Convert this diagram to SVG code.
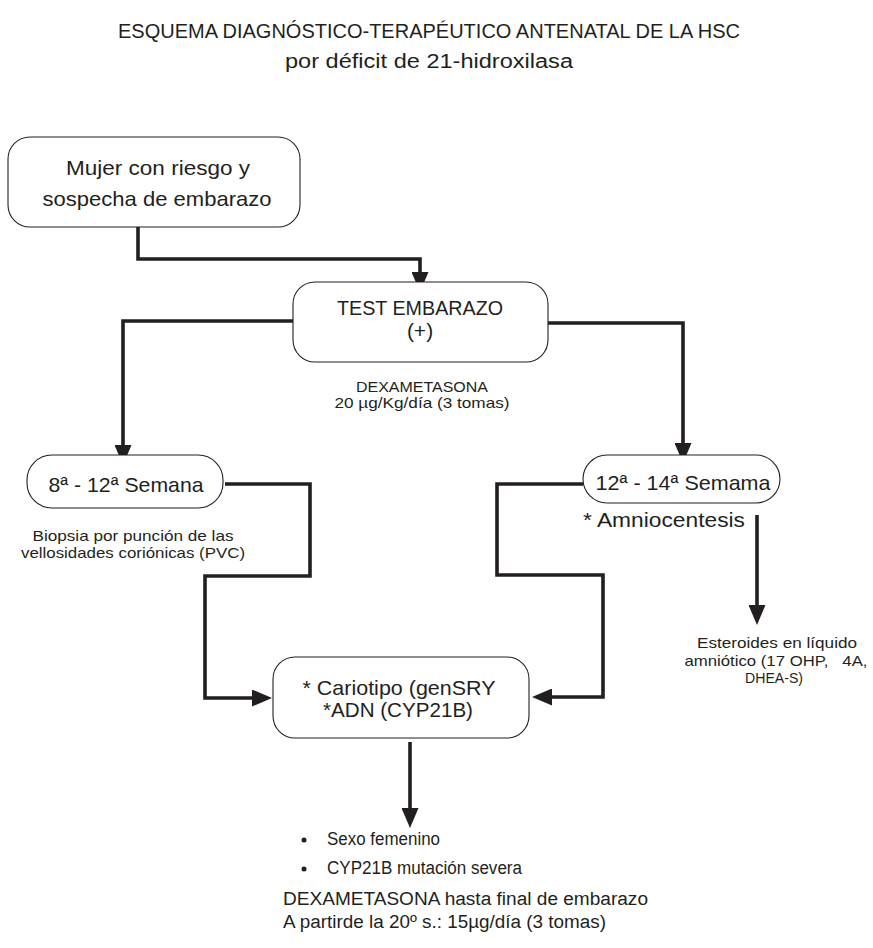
<svg xmlns="http://www.w3.org/2000/svg" width="873" height="948" viewBox="0 0 873 948">
<style>
text{font-family:"Liberation Sans",Arial,sans-serif;fill:#231f20}
.box{fill:#fff;stroke:#231f20;stroke-width:1.1}
.conn{fill:none;stroke:#231f20;stroke-width:3.6;stroke-linejoin:miter}
.ttl{font-size:20px}
.big{font-size:21px}
.mid{font-size:18px}
.small{font-size:15px}
.c{text-anchor:middle}
.pre{white-space:pre}
</style>
<defs>
<marker id="arr" viewBox="0 0 20 17" refX="10" refY="8.5" markerWidth="20" markerHeight="17" markerUnits="userSpaceOnUse" orient="auto">
<path d="M0,0 L20,8.5 L0,17 z" fill="#231f20"/>
</marker>
</defs>
<rect width="873" height="948" fill="#fff"/>
<g id="title">
<text class="ttl c" x="429" y="38" textLength="622" lengthAdjust="spacingAndGlyphs">ESQUEMA DIAGNÓSTICO-TERAPÉUTICO ANTENATAL DE LA HSC</text>
<text class="ttl c" x="429" y="68" textLength="288" lengthAdjust="spacingAndGlyphs">por déficit de 21-hidroxilasa</text>
</g>
<g id="connectors">
<path class="conn" d="M138,227 V259 H420 V282" marker-end="url(#arr)"/>
<path class="conn" d="M293,321 H123 V455" marker-end="url(#arr)"/>
<path class="conn" d="M548,323 H683 V453" marker-end="url(#arr)"/>
<path class="conn" d="M225,484 H310 V576 H205 V698 H262" marker-end="url(#arr)"/>
<path class="conn" d="M583,484 H497 V575 H603 V697 H542" marker-end="url(#arr)"/>
<path class="conn" d="M757,515 V615" marker-end="url(#arr)"/>
<path class="conn" d="M410,742 V818" marker-end="url(#arr)"/>
</g>
<g id="n1">
<rect class="box" x="8" y="137" width="292" height="90" rx="22"/>
<text class="big c" x="158" y="175" textLength="184" lengthAdjust="spacingAndGlyphs">Mujer con riesgo y</text>
<text class="big c" x="157" y="206" textLength="229" lengthAdjust="spacingAndGlyphs">sospecha de embarazo</text>
</g>
<g id="n2">
<rect class="box" x="293" y="282" width="255" height="80" rx="22"/>
<text class="big c" x="420" y="315" textLength="166" lengthAdjust="spacingAndGlyphs">TEST EMBARAZO</text>
<text class="big c" x="420" y="338">(+)</text>
</g>
<g id="dexa1">
<text class="small c" x="422" y="392" textLength="132" lengthAdjust="spacingAndGlyphs">DEXAMETASONA</text>
<text class="small c" x="422" y="408" textLength="175" lengthAdjust="spacingAndGlyphs">20 µg/Kg/día (3 tomas)</text>
</g>
<g id="n3">
<rect class="box" x="27" y="455" width="196" height="53" rx="25"/>
<text class="big c" x="126" y="492" textLength="155" lengthAdjust="spacingAndGlyphs">8ª - 12ª Semana</text>
</g>
<g id="biopsia">
<text class="small c" x="133" y="541" textLength="201" lengthAdjust="spacingAndGlyphs">Biopsia por punción de las</text>
<text class="small c" x="133" y="558" textLength="224" lengthAdjust="spacingAndGlyphs">vellosidades coriónicas (PVC)</text>
</g>
<g id="n4">
<rect class="box" x="583" y="455" width="197" height="48" rx="24"/>
<text class="big c" x="683" y="490" textLength="175" lengthAdjust="spacingAndGlyphs">12ª - 14ª Semama</text>
</g>
<g id="amnio">
<text class="big" x="583" y="527" textLength="162" lengthAdjust="spacingAndGlyphs">* Amniocentesis</text>
</g>
<g id="esteroides">
<text class="small c" x="777" y="648" textLength="160" lengthAdjust="spacingAndGlyphs">Esteroides en líquido</text>
<text class="small c pre" x="776" y="666" textLength="183" lengthAdjust="spacingAndGlyphs">amniótico (17 OHP,   4A,</text>
<text class="small c" x="774" y="683" textLength="58" lengthAdjust="spacingAndGlyphs">DHEA-S)</text>
</g>
<g id="n5">
<rect class="box" x="273" y="657" width="256" height="81" rx="22"/>
<text class="big c" x="399" y="695" textLength="193" lengthAdjust="spacingAndGlyphs">* Cariotipo (genSRY</text>
<text class="big c" x="398" y="717" textLength="150" lengthAdjust="spacingAndGlyphs">*ADN (CYP21B)</text>
</g>
<g id="resultado">
<circle cx="304" cy="840" r="2.5" fill="#231f20"/>
<circle cx="304" cy="869" r="2.5" fill="#231f20"/>
<text class="mid" x="327" y="845" textLength="113" lengthAdjust="spacingAndGlyphs">Sexo femenino</text>
<text class="mid" x="327" y="874" textLength="195" lengthAdjust="spacingAndGlyphs">CYP21B mutación severa</text>
</g>
<g id="dexa2">
<text class="mid" x="283" y="905" textLength="365" lengthAdjust="spacingAndGlyphs">DEXAMETASONA hasta final de embarazo</text>
<text class="mid" x="283" y="928" textLength="323" lengthAdjust="spacingAndGlyphs">A partirde la 20º s.: 15µg/día (3 tomas)</text>
</g>
</svg>
